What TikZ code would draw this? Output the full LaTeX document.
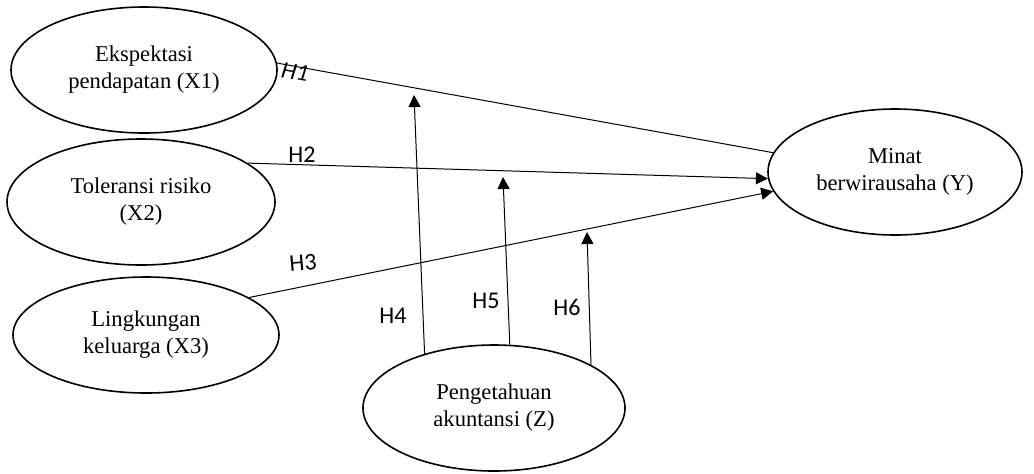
\documentclass[tikz,border=0pt]{standalone}
\usepackage{fontspec}
\setmainfont{Liberation Serif}
\newfontfamily\hypfont{Carlito}
\usepackage{tikz}
\usetikzlibrary{shapes.geometric, arrows.meta}

\begin{document}
\begin{tikzpicture}[%
    x=0.5pt, y=-0.5pt,
    every node/.style={
        font=\fontsize{11.3}{13.5}\selectfont,
    },
    var/.style={
        draw, ellipse, line width=0.8pt, align=center, inner sep=0pt,
        minimum width=133pt, minimum height=63pt,
    },
    hyp/.style={font=\hypfont\fontsize{12}{14}\selectfont},
    link/.style={line width=0.5pt, -{Triangle[length=6pt,width=6pt]}},
]

\useasboundingbox (0,0) rectangle (1034,473);

% draw the variables
\node[var] (x1) at (144,70) {Ekspektasi\\pendapatan (X1)};
\node[var, minimum width=134pt] (x2) at (141,202) {Toleransi risiko\\(X2)};
\node[var, minimum height=58pt] (x3) at (146,335) {Lingkungan\\keluarga (X3)};
\node[var, minimum width=127pt] (y) at (895,172) {Minat\\berwirausaha (Y)};
\node[var, minimum width=131pt] (z) at (494,408) {Pengetahuan\\akuntansi (Z)};

% draw direct effects
\draw[line width=0.5pt] (x1.3) -- (y.171);
\draw[link] (x2.20) -- (y.183);
\draw[link] (x3.20) -- (y.189);

% draw moderating effects
\coordinate (m4) at (414,95);
\coordinate (m5) at (503,177);
\coordinate (m6) at (587,232);
\draw[link] (z.142) -- (m4);
\draw[link] (z.76) -- (m5);
\draw[link] (z.24) -- (m6);

% place hypothesis labels
\node[hyp, rotate=-10] (h1) at (295,72) {\itshape H1};
\node[hyp] (h2) at (302,155) {H2};
\node[hyp, rotate=5] (h3) at (303,263) {H3};
\node[hyp] (h4) at (393,316) {H4};
\node[hyp] (h5) at (486,301) {H5};
\node[hyp] (h6) at (567,307) {H6};

\end{tikzpicture}
\end{document}
